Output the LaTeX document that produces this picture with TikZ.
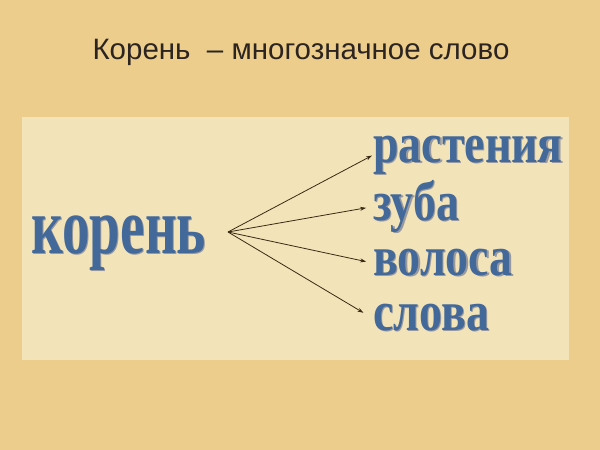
\documentclass[tikz,border=0pt]{standalone}
\usepackage{fontspec}
\usepackage{xcolor}
\usetikzlibrary{arrows.meta}
\setmainfont{Liberation Serif}
\newfontfamily\titlefont{Liberation Sans}
\definecolor{Sand}{HTML}{EDCD8C}
\definecolor{Panel}{HTML}{F2E3B9}
\definecolor{WordBlue}{HTML}{42699A}
\definecolor{WordShade}{HTML}{9A9A9E}
\definecolor{Ink}{HTML}{2B2420}
\definecolor{Wire}{HTML}{3A2A12}
\newcommand{\shadeword}[1]{\makebox[0pt][l]{\hspace{1.6pt}\raisebox{-1.6pt}{\color{WordShade}#1}}#1}

\begin{document}
\begin{tikzpicture}[x=1pt,y=-1pt,
  meaning/.style={anchor=base west, inner sep=1pt, text=WordBlue,
    font=\fontsize{56}{56}\selectfont\bfseries},
  link/.style={Wire, line width=0.8pt, -{Stealth[length=6pt,width=4pt]}}]
%BACK
\fill[Sand] (0,0) rectangle (600,450);
\fill[Panel] (22,117) rectangle (569,360);
\useasboundingbox (0,0) rectangle (600,450);
%TITLE
\node[anchor=base, inner sep=0pt, text=Ink, font=\titlefont\fontsize{29.5}{29.5}\selectfont]
  (title) at (301,59) {Корень\ \ – многозначное слово};
%ROOT
\node[anchor=base west, inner sep=0pt, text=WordBlue, font=\fontsize{80}{80}\selectfont\bfseries]
  (root) at (31,253) {\scalebox{0.69}[1]{\shadeword{корень}}};
\coordinate (hub) at (228,232);
%MEANINGS
\node[meaning] (plant) at (372,162) {\scalebox{0.82}[1]{\shadeword{растения}}};
\node[meaning] (tooth) at (372,220) {\scalebox{0.82}[1]{\shadeword{зуба}}};
\node[meaning] (hair) at (372,275) {\scalebox{0.82}[1]{\shadeword{волоса}}};
\node[meaning] (word) at (372,330) {\scalebox{0.82}[1]{\shadeword{слова}}};
%LINKS
\draw[link] (hub) -- (plant.west);
\draw[link, shorten >=6pt] (hub) -- (tooth.west);
\draw[link, shorten >=6pt] (hub) -- (hair.west);
\draw[link, shorten >=10pt] (hub) -- (word.west);
\end{tikzpicture}
\end{document}
